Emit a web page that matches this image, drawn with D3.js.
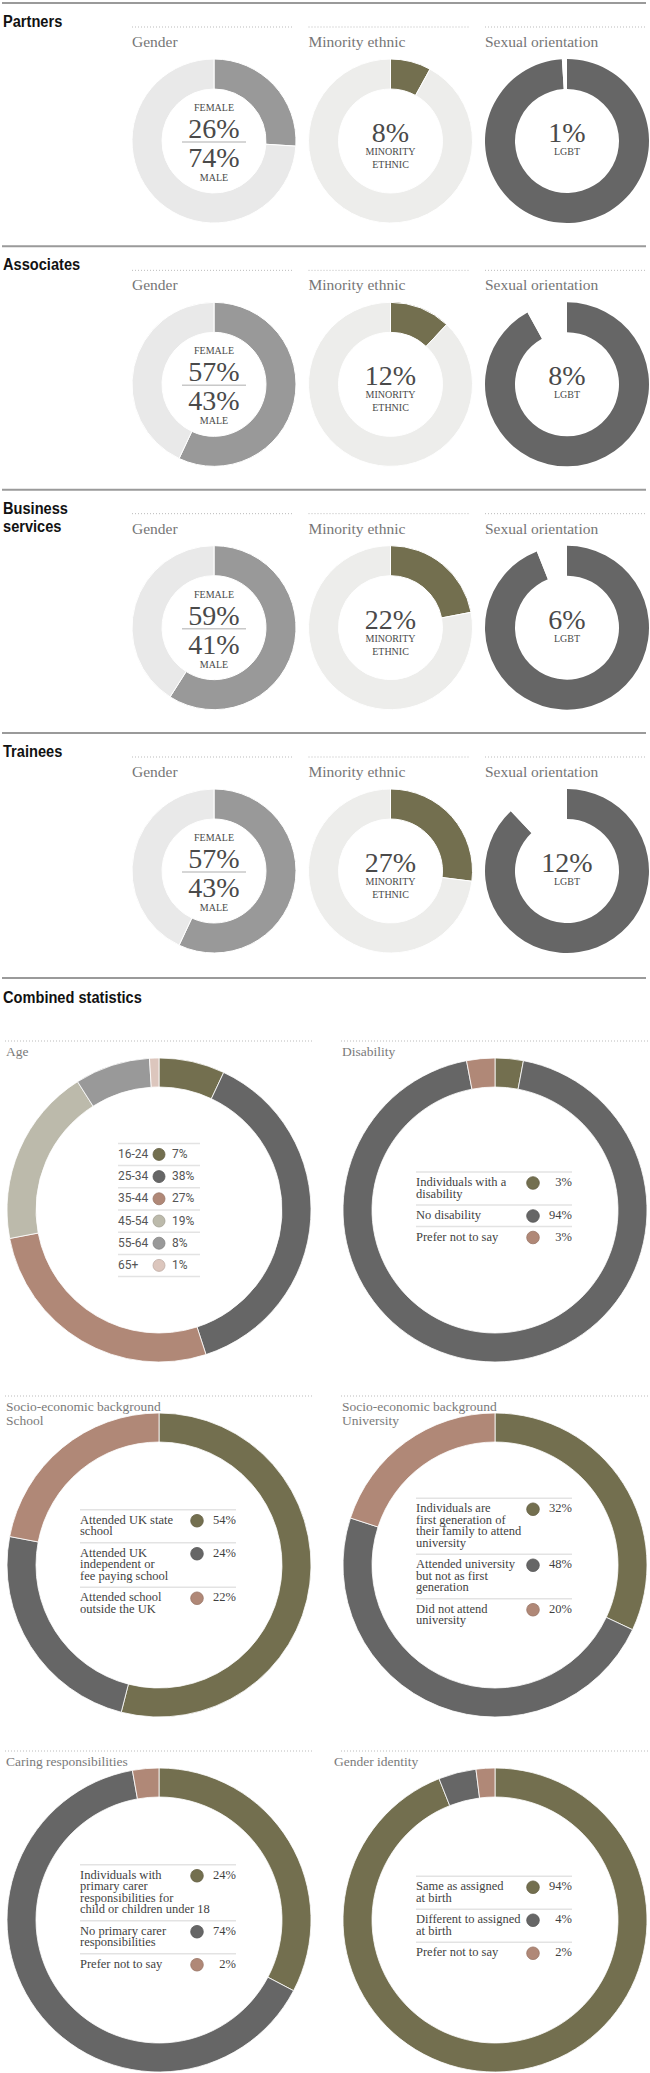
<!DOCTYPE html>
<html>
<head>
<meta charset="utf-8">
<script src="https://cdn.jsdelivr.net/npm/d3@7"></script>
<style>
  body { margin: 0; background: #fff; }
</style>
</head>
<body>
<div id="container"></div>
<script>
// top part: one row per staff group
const groups = [['Partners'], ['Associates'], ['Business', 'services'], ['Trainees']];
const metricNames = ['Gender', 'Minority ethnic', 'Sexual orientation'];
const femaleShare = [26, 57, 59, 57];
const maleShare = [74, 43, 41, 43];
const ethnicShare = [8, 12, 22, 27];
const lgbtShare = [1, 8, 6, 12];

// combined statistics
const ageBands = ['16-24', '25-34', '35-44', '45-54', '55-64', '65+'];
const ageShares = [7, 38, 27, 19, 8, 1];

const disabilityLabels = [['Individuals with a', 'disability'], ['No disability'], ['Prefer not to say']];
const disabilityShares = [3, 94, 3];

const schoolLabels = [['Attended UK state', 'school'], ['Attended UK', 'independent or', 'fee paying school'], ['Attended school', 'outside the UK']];
const schoolShares = [54, 24, 22];

const universityLabels = [['Individuals are', 'first generation of', 'their family to attend', 'university'], ['Attended university', 'but not as first', 'generation'], ['Did not attend', 'university']];
const universityShares = [32, 48, 20];

const caringLabels = [['Individuals with', 'primary carer', 'responsibilities for', 'child or children under 18'], ['No primary carer', 'responsibilities'], ['Prefer not to say']];
const caringShares = [24, 74, 2];
// the ring in the source is drawn with these shares, not the printed ones
const caringArcShares = [32.7, 64.5, 2.8];

const genderIdLabels = [['Same as assigned', 'at birth'], ['Different to assigned', 'at birth'], ['Prefer not to say']];
const genderIdShares = [94, 4, 2];

const olive = '#736f4f', dark = '#666666', tan = '#b08877';
const ageColors = [olive, dark, tan, '#bcbaab', '#999999', '#dcc6bd'];
const threeColors = [olive, dark, tan];

const width = 650, height = 2073;
const serif = '"Liberation Serif", "Times New Roman", serif';
const headFont = '"Liberation Sans", Arial, sans-serif';
const sans = 'Roboto, "Liberation Sans", sans-serif';

let svg = d3.create('svg').attr('width', width).attr('height', height)
  .style('display', 'block');

const pie = d3.pie().sort(null).value(d => d);

// bold heading, squeezed to look like the condensed headline face
function heading(x, y, lines) {
  svg.append('text')
    .attr('transform', `translate(${x},${y}) scale(0.86,1)`)
    .attr('font-family', headFont).attr('font-weight', 'bold')
    .attr('font-size', 17).attr('fill', '#121212')
    .selectAll('tspan').data(lines).enter().append('tspan')
    .attr('x', 0).attr('y', (d, k) => k * 18)
    .text(d => d);
}

// ---------- top rows ----------
const rowTop = d3.scaleLinear().domain([0, groups.length - 1]).range([3, 733]);
const colStart = d3.scaleLinear().domain([0, 2]).range([132, 485]);
const R1 = 82, r1 = 52;
const smallArc = d3.arc().innerRadius(r1).outerRadius(R1);
const pctSize = 28;

groups.forEach((g, i) => {
  const top = rowTop(i);
  svg.append('line')
    .attr('x1', 2).attr('x2', 646).attr('y1', top).attr('y2', top)
    .attr('stroke', '#9a9a9a').attr('stroke-width', 2);

  heading(3, top + 24, g);

  metricNames.forEach((m, j) => {
    const x0 = colStart(j);
    svg.append('line')
      .attr('x1', x0).attr('x2', x0 + 160)
      .attr('y1', top + 24).attr('y2', top + 24)
      .attr('stroke', '#bbb').attr('stroke-dasharray', '1,2');
    svg.append('text')
      .attr('x', x0).attr('y', top + 44)
      .attr('font-family', serif).attr('font-size', 15.5)
      .attr('fill', '#767676').text(m);
  });

  const cy = top + 138;
  const cx = j => colStart(j) + R1;

  // gender
  const gG = svg.append('g').attr('transform', `translate(${cx(0)},${cy})`);
  gG.selectAll('path').data(pie([femaleShare[i], maleShare[i]])).enter().append('path')
    .attr('d', smallArc)
    .attr('fill', (d, k) => ['#999999', '#e9e9e9'][k])
    .attr('stroke', '#fff').attr('stroke-width', 1);
  gG.append('line').attr('x1', -32).attr('x2', 32).attr('y1', 1).attr('y2', 1)
    .attr('stroke', '#c8c8c8').attr('stroke-width', 1.5);
  const gTexts = [
    { t: 'FEMALE', y: -30, s: 10 },
    { t: femaleShare[i] + '%', y: -3, s: pctSize },
    { t: maleShare[i] + '%', y: 26, s: pctSize },
    { t: 'MALE', y: 40, s: 10 }
  ];
  gG.selectAll('text').data(gTexts).enter().append('text')
    .attr('y', d => d.y).attr('text-anchor', 'middle')
    .attr('font-family', serif).attr('font-size', d => d.s)
    .attr('fill', '#4a4a4a').text(d => d.t);

  // minority ethnic
  const gE = svg.append('g').attr('transform', `translate(${cx(1)},${cy})`);
  gE.selectAll('path').data(pie([ethnicShare[i], 100 - ethnicShare[i]])).enter().append('path')
    .attr('d', smallArc)
    .attr('fill', (d, k) => [olive, '#ededeb'][k])
    .attr('stroke', '#fff').attr('stroke-width', 1);
  const eTexts = [
    { t: ethnicShare[i] + '%', y: 1, s: pctSize },
    { t: 'MINORITY', y: 14, s: 10 },
    { t: 'ETHNIC', y: 27, s: 10 }
  ];
  gE.selectAll('text').data(eTexts).enter().append('text')
    .attr('y', d => d.y).attr('text-anchor', 'middle')
    .attr('font-family', serif).attr('font-size', d => d.s)
    .attr('fill', '#4a4a4a').text(d => d.t);

  // sexual orientation: the LGBT share is left as the gap before 12 o'clock
  const gL = svg.append('g').attr('transform', `translate(${cx(2)},${cy})`);
  gL.selectAll('path').data(pie([100 - lgbtShare[i], lgbtShare[i]])).enter().append('path')
    .attr('d', smallArc)
    .attr('fill', (d, k) => [dark, '#ffffff'][k]);
  const lTexts = [
    { t: lgbtShare[i] + '%', y: 1, s: pctSize },
    { t: 'LGBT', y: 14, s: 10 }
  ];
  gL.selectAll('text').data(lTexts).enter().append('text')
    .attr('y', d => d.y).attr('text-anchor', 'middle')
    .attr('font-family', serif).attr('font-size', d => d.s)
    .attr('fill', '#4a4a4a').text(d => d.t);
});

// ---------- combined statistics ----------
const combTop = 978;
svg.append('line')
  .attr('x1', 2).attr('x2', 646).attr('y1', combTop).attr('y2', combTop)
  .attr('stroke', '#9a9a9a').attr('stroke-width', 2);
heading(3, combTop + 25, ['Combined statistics']);

const panels = [
  { title: ['Age'], shares: ageShares, arcs: ageShares, colors: ageColors, labels: ageBands, age: true },
  { title: ['Disability'], shares: disabilityShares, arcs: disabilityShares, colors: threeColors, labels: disabilityLabels },
  { title: ['Socio-economic background', 'School'], shares: schoolShares, arcs: schoolShares, colors: threeColors, labels: schoolLabels },
  { title: ['Socio-economic background', 'University'], shares: universityShares, arcs: universityShares, colors: threeColors, labels: universityLabels },
  { title: ['Caring responsibilities'], shares: caringShares, arcs: caringArcShares, colors: threeColors, labels: caringLabels },
  { title: ['Gender identity'], shares: genderIdShares, arcs: genderIdShares, colors: threeColors, labels: genderIdLabels, titleShift: -8 }
];

const panelX = d3.scaleLinear().domain([0, 1]).range([5, 341]);
const panelY = d3.scaleLinear().domain([0, 2]).range([1041, 1751]);
const R2 = 152, r2 = 123;
const bigArc = d3.arc().innerRadius(r2).outerRadius(R2);
const legendInk = '#3f3f3f';

panels.forEach((p, i) => {
  const col = i % 2, row = Math.floor(i / 2);
  const x0 = panelX(col), y0 = panelY(row);
  const cx = x0 + 154, cy = y0 + 169;

  svg.append('line')
    .attr('x1', x0).attr('x2', x0 + 307).attr('y1', y0).attr('y2', y0)
    .attr('stroke', '#bbb').attr('stroke-dasharray', '1,2');
  svg.append('text')
    .attr('font-family', serif).attr('font-size', 13.5).attr('fill', '#7a7a7a')
    .selectAll('tspan').data(p.title).enter().append('tspan')
    .attr('x', x0 + 1 + (p.titleShift || 0)).attr('y', (d, k) => y0 + 15 + k * 14)
    .text(d => d);

  const g = svg.append('g').attr('transform', `translate(${cx},${cy})`);
  g.selectAll('path').data(pie(p.arcs)).enter().append('path')
    .attr('d', bigArc)
    .attr('fill', (d, k) => p.colors[k])
    .attr('stroke', '#fff').attr('stroke-width', 0.8);

  if (p.age) {
    const rowH = 22.2;
    const topY = -rowH * p.labels.length / 2;
    const lg = g.append('g').attr('transform', `translate(0,${topY})`);
    const rows = lg.selectAll('g').data(p.labels).enter().append('g')
      .attr('transform', (d, k) => `translate(0,${k * rowH})`);
    rows.append('line').attr('x1', -41).attr('x2', 41)
      .attr('stroke', '#e3e3e3').attr('stroke-width', 1.5);
    rows.append('text').attr('x', -41).attr('y', 14.5)
      .attr('font-family', sans).attr('font-size', 12).attr('fill', '#555')
      .text(d => d);
    rows.append('circle').attr('cx', 0).attr('cy', 11).attr('r', 6)
      .attr('fill', (d, k) => p.colors[k])
      .attr('stroke', (d, k) => d3.color(p.colors[k]).darker(0.4)).attr('stroke-width', 0.8);
    rows.append('text').attr('x', 13).attr('y', 14.5)
      .attr('font-family', sans).attr('font-size', 12).attr('fill', '#555')
      .text((d, k) => p.shares[k] + '%');
    lg.append('line').attr('x1', -41).attr('x2', 41)
      .attr('y1', rowH * p.labels.length).attr('y2', rowH * p.labels.length)
      .attr('stroke', '#e3e3e3').attr('stroke-width', 1.5);
  } else {
    const lineH = 11.5;
    const heights = p.labels.map(l => 10 + l.length * lineH);
    const offsets = heights.map((h, k) => d3.sum(heights.slice(0, k)));
    const topY = -d3.sum(heights) / 2;
    const lg = g.append('g').attr('transform', `translate(0,${topY})`);
    const rows = lg.selectAll('g').data(p.labels).enter().append('g')
      .attr('transform', (d, k) => `translate(0,${offsets[k]})`);
    rows.append('line').attr('x1', -79).attr('x2', 77)
      .attr('stroke', '#e3e3e3').attr('stroke-width', 1.5);
    rows.append('text')
      .attr('font-family', serif).attr('font-size', 12.5).attr('fill', legendInk)
      .selectAll('tspan').data(d => d).enter().append('tspan')
      .attr('x', -79).attr('y', (d, k) => 14 + k * lineH)
      .text(d => d);
    rows.append('circle').attr('cx', 38).attr('cy', 11).attr('r', 6.3)
      .attr('fill', (d, k) => p.colors[k])
      .attr('stroke', (d, k) => d3.color(p.colors[k]).darker(0.4)).attr('stroke-width', 0.8);
    rows.append('text').attr('x', 77).attr('y', 14).attr('text-anchor', 'end')
      .attr('font-family', serif).attr('font-size', 12.5).attr('fill', legendInk)
      .text((d, k) => p.shares[k] + '%');
  }
});

d3.select('#container').append(() => svg.node());
</script>
</body>
</html>
